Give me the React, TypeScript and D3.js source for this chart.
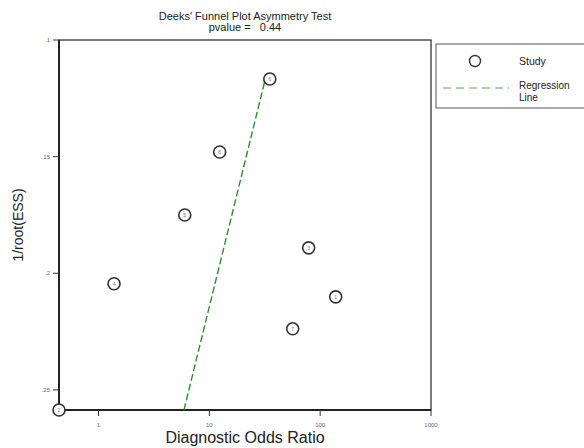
import React from "react";
import * as d3 from "d3";

const studyIds = ["1", "2", "3", "4", "5", "6", "7", "8"];
const studyDOR = [138, 0.44, 78.7, 1.38, 6.0, 35.1, 56.5, 12.4];
const studyInvRootESS = [0.2101, 0.2586, 0.1891, 0.2045, 0.175, 0.1167, 0.2238, 0.148];
const regressionDOR = [5.9, 32];
const regressionY = [0.2586, 0.1167];
const xTicks = [1, 10, 100, 1000];
const xTickLabels = ["1", "10", "100", "1000"];
const yTicks = [0.1, 0.15, 0.2, 0.25];
const yTickLabels = [".1", ".15", ".2", ".25"];

const FONT = "'Liberation Sans', Arial, Helvetica, sans-serif";

export default function App() {
  const W = 584;
  const H = 448;
  const x = d3.scaleLog().domain([0.44, 1000]).range([59, 431]);
  const y = d3.scaleLinear().domain([0.1, 0.2586]).range([40, 410]);
  const [x0, x1] = x.range();
  const [y0, y1] = y.range();
  const line = d3
    .line<number>()
    .x((_, i) => x(regressionDOR[i]))
    .y((d) => y(d));
  const pts = studyIds.map((id, i) => ({ id, dor: studyDOR[i], v: studyInvRootESS[i] }));

  return (
    <svg
      width={W}
      height={H}
      style={{ position: "absolute", left: 0, top: 0, background: "#fff" }}
      fontFamily={FONT}
    >
      <rect x={0} y={0} width={W} height={H} fill="#fff" />
      {/* title */}
      <text x={245} y={20} textAnchor="middle" fontSize={11} fill="#222">
        Deeks' Funnel Plot Asymmetry Test
      </text>
      <text x={245} y={31} textAnchor="middle" fontSize={11} fill="#222" style={{ whiteSpace: "pre" }}>
        {"pvalue =   0.44"}
      </text>

      {/* frame */}
      <rect x={x0} y={y0} width={x1 - x0} height={y1 - y0} fill="none" stroke="#333" strokeWidth={1.3} />
      <line x1={x0} x2={x0} y1={y0} y2={y1} stroke="#222" strokeWidth={2} />
      <line x1={x0} x2={x1} y1={y1} y2={y1} stroke="#222" strokeWidth={2} />

      {/* y ticks */}
      {yTicks.map((t, i) => (
        <g key={"y" + i}>
          <line x1={x0 - 6} x2={x0} y1={y(t)} y2={y(t)} stroke="#333" strokeWidth={1} />
          <text x={x0 - 9} y={y(t) + 2} textAnchor="end" fontSize={6} fill="#666">
            {yTickLabels[i]}
          </text>
        </g>
      ))}
      <text
        transform={`translate(23,${(y0 + y1) / 2}) rotate(-90)`}
        textAnchor="middle"
        fontSize={14}
        fill="#222"
      >
        1/root(ESS)
      </text>

      {/* x ticks */}
      {xTicks.map((t, i) => (
        <g key={"x" + i}>
          <line x1={x(t)} x2={x(t)} y1={y1} y2={y1 + 6} stroke="#333" strokeWidth={1} />
          <text x={x(t)} y={y1 + 17} textAnchor="middle" fontSize={6} fill="#666">
            {xTickLabels[i]}
          </text>
        </g>
      ))}
      <text x={245} y={443} textAnchor="middle" fontSize={16} fill="#222">
        Diagnostic Odds Ratio
      </text>

      {/* regression line */}
      <path d={line(regressionY) || ""} fill="none" stroke="#2f8f2f" strokeWidth={1.4} strokeDasharray="7,3" />

      {/* points */}
      {pts.map((p) => (
        <g key={p.id}>
          <circle cx={x(p.dor)} cy={y(p.v)} r={6} fill="#fff" stroke="#333" strokeWidth={1.6} />
          <text x={x(p.dor)} y={y(p.v) + 1.8} textAnchor="middle" fontSize={5} fill="#777">
            {p.id}
          </text>
        </g>
      ))}

      {/* legend */}
      <rect x={436} y={44} width={150} height={64} fill="#fff" stroke="#555" strokeWidth={1} />
      <circle cx={475} cy={61} r={5.5} fill="#fff" stroke="#333" strokeWidth={1.4} />
      <text x={519} y={65} fontSize={10.5} fill="#222">
        Study
      </text>
      <line x1={443} x2={509} y1={88} y2={88} stroke="#8cc78c" strokeWidth={1.6} strokeDasharray="8,5" />
      <text x={519} y={89} fontSize={10} fill="#222">
        Regression
      </text>
      <text x={519} y={100.5} fontSize={10} fill="#222">
        Line
      </text>
    </svg>
  );
}
